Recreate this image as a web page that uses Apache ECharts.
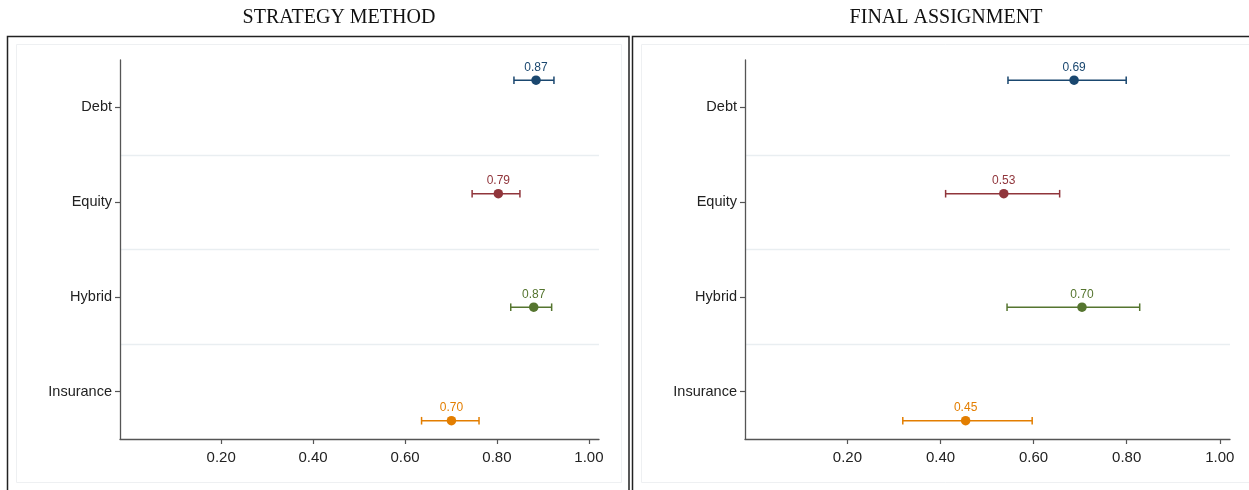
<!DOCTYPE html>
<html>
<head>
<meta charset="utf-8">
<script src="https://cdn.jsdelivr.net/npm/echarts@6/dist/echarts.min.js"></script>
<style>
html,body{margin:0;padding:0;background:#fff;}
#chart{width:1249px;height:490px;}
</style>
</head>
<body>
<div id="chart"></div>
<script>
// ---- data ----
const categories = ['Debt', 'Equity', 'Hybrid', 'Insurance'];
const colors = ['#1a476f', '#90353b', '#55752f', '#e37e00'];
const panelTitles = ['STRATEGY METHOD', 'FINAL ASSIGNMENT'];
const xTicks = [0.2, 0.4, 0.6, 0.8, 1.0];

// Strategy method
const smEstimate = [0.885, 0.803, 0.880, 0.701];
const smLower    = [0.837, 0.746, 0.830, 0.636];
const smUpper    = [0.924, 0.850, 0.919, 0.761];
const smLabels   = ['0.87', '0.79', '0.87', '0.70'];

// Final assignment
const faEstimate = [0.687, 0.536, 0.704, 0.454];
const faLower    = [0.545, 0.411, 0.543, 0.319];
const faUpper    = [0.799, 0.656, 0.828, 0.597];
const faLabels   = ['0.69', '0.53', '0.70', '0.45'];

// ---- layout ----
const grids = [
  {left: 120, top: 60, width: 479, height: 379},
  {left: 745, top: 60, width: 485, height: 379}
];

const chart = echarts.init(document.getElementById('chart'), null, {renderer: 'canvas'});

function makeX(gi) {
  return {
    type: 'value', gridIndex: gi, min: -0.02, max: 1.022,
    axisLine: {show: true, onZero: false, lineStyle: {color: '#555', width: 1.3}},
    axisTick: {show: true, length: 5, customValues: xTicks, lineStyle: {color: '#555', width: 1.2}},
    axisLabel: {customValues: xTicks, formatter: v => v.toFixed(2), color: '#222',
      fontFamily: 'Liberation Sans', fontSize: 15, margin: 11},
    splitLine: {show: false}
  };
}
function makeYCat(gi) {
  return {
    type: 'category', gridIndex: gi, data: categories, inverse: true, boundaryGap: true,
    axisLine: {show: true, onZero: false, lineStyle: {color: '#555', width: 1.3}},
    axisTick: {show: true, alignWithLabel: true, length: 5, lineStyle: {color: '#555', width: 1.2}},
    axisLabel: {color: '#222', fontFamily: 'Liberation Sans', fontSize: 14.5, margin: 8},
    splitLine: {show: true, showMinLine: false, showMaxLine: false,
      lineStyle: {color: '#e9eef1', width: 1.3}}
  };
}
function makeYVal(gi) {
  return {
    type: 'value', gridIndex: gi, min: -0.178, max: 3.161, inverse: true, show: false,
    axisLine: {onZero: false},
    splitLine: {show: false}
  };
}

function errSeries(gi, lo, hi) {
  return {
    type: 'custom', xAxisIndex: gi, yAxisIndex: gi * 2 + 1,
    encode: {x: [0, 1], y: 2},
    data: categories.map((c, i) => ({value: [lo[i], hi[i], i], itemStyle: {color: colors[i]}})),
    renderItem: function (params, api) {
      const a = api.coord([api.value(0), api.value(2)]);
      const b = api.coord([api.value(1), api.value(2)]);
      const h = 3.8;
      const st = {stroke: api.visual('color'), lineWidth: 1.5, fill: null};
      return {type: 'group', children: [
        {type: 'line', shape: {x1: a[0], y1: a[1], x2: b[0], y2: b[1]}, style: st},
        {type: 'line', shape: {x1: a[0], y1: a[1] - h, x2: a[0], y2: a[1] + h}, style: st},
        {type: 'line', shape: {x1: b[0], y1: b[1] - h, x2: b[0], y2: b[1] + h}, style: st}
      ]};
    },
    z: 2
  };
}
function ptSeries(gi, est, labels) {
  return {
    type: 'scatter', xAxisIndex: gi, yAxisIndex: gi * 2 + 1, symbolSize: 9.5,
    data: categories.map((c, i) => ({
      value: [est[i], i],
      itemStyle: {color: colors[i], opacity: 1},
      label: {show: true, position: 'top', distance: 2, formatter: labels[i], color: colors[i],
        fontFamily: 'Liberation Sans', fontSize: 12}
    })),
    z: 3
  };
}

const option = {
  animation: false,
  backgroundColor: '#fff',
  title: [
    {text: panelTitles[0], left: 334, top: 3, textAlign: 'center',
      textStyle: {fontFamily: 'Liberation Serif', fontWeight: 'normal', fontSize: 20, color: '#111'}},
    {text: panelTitles[1], left: 941, top: 3, textAlign: 'center',
      textStyle: {fontFamily: 'Liberation Serif', fontWeight: 'normal', fontSize: 20, color: '#111'}}
  ],
  graphic: [
    {type: 'rect', shape: {x: 7.5, y: 36.5, width: 621.5, height: 480}, style: {fill: null, stroke: '#222', lineWidth: 1.5}, silent: true},
    {type: 'rect', shape: {x: 632.5, y: 36.5, width: 640, height: 480}, style: {fill: null, stroke: '#222', lineWidth: 1.5}, silent: true},
    {type: 'rect', shape: {x: 16.5, y: 44.5, width: 605, height: 438}, style: {fill: null, stroke: '#eef0f2', lineWidth: 1}, silent: true},
    {type: 'rect', shape: {x: 641.5, y: 44.5, width: 620, height: 438}, style: {fill: null, stroke: '#eef0f2', lineWidth: 1}, silent: true}
  ],
  grid: grids,
  xAxis: [makeX(0), makeX(1)],
  yAxis: [makeYCat(0), makeYVal(0), makeYCat(1), makeYVal(1)],
  series: [
    errSeries(0, smLower, smUpper), ptSeries(0, smEstimate, smLabels),
    errSeries(1, faLower, faUpper), ptSeries(1, faEstimate, faLabels)
  ]
};
chart.setOption(option);
</script>
</body>
</html>
